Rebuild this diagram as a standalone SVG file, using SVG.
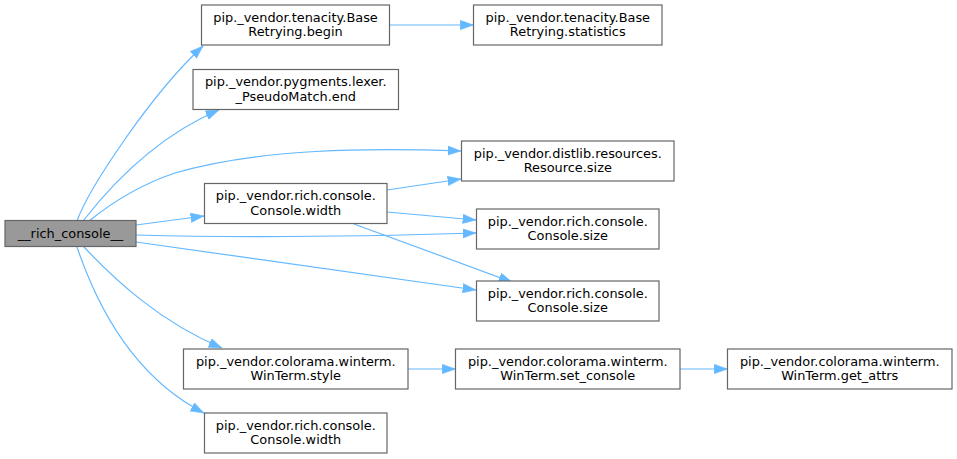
<svg xmlns="http://www.w3.org/2000/svg" width="957" height="459" viewBox="0 0 957 459">
<style>
.node rect{fill:#ffffff;stroke:#666666;stroke-width:1.2}
.node.root rect{fill:#999999}
.node text{font-family:"DejaVu Sans","Liberation Sans",sans-serif;font-size:12.9px;fill:#000000;text-anchor:middle}
.edges path{fill:none;stroke:#63b8ff;stroke-width:1.2;marker-end:url(#ah)}
</style>
<defs>
<marker id="ah" markerUnits="userSpaceOnUse" markerWidth="14" markerHeight="10" refX="13.3" refY="4.7" orient="auto">
<path d="M0,0 L13.3,4.7 L0,9.4 z" fill="#63b8ff" stroke="#63b8ff" stroke-width="0.5"/>
</marker>
</defs>
<g class="edges" id="edges">
<path d="M77,221 C88,190 150,95 203,46"/>
<path d="M83,221 C115,180 160,135 219,110"/>
<path d="M89,221 C115,200 145,183 175,173 C260,148 370,148 461,151"/>
<path d="M136,225 L204,216"/>
<path d="M136,235 C250,238 380,236 476,233"/>
<path d="M136,242 L476,290"/>
<path d="M84,247 C115,280 160,322 222,348"/>
<path d="M77,247 C95,300 130,375 204,413"/>
<path d="M387,190 L461,179"/>
<path d="M387,212 L476,220"/>
<path d="M354,224 L512,282"/>
<path d="M389.5,25 L473.5,25"/>
<path d="M408,369 L455.5,369"/>
<path d="M680,369 L727.5,369"/>
</g>
<g class="node root" id="n0"><rect x="5" y="220.5" width="131" height="26"/><text x="70.5" y="237.5">__rich_console__</text></g>
<g class="node" id="n1"><rect x="201.5" y="5" width="188" height="40"/><text x="295.5" y="21.5">pip._vendor.tenacity.Base</text><text x="295.5" y="36">Retrying.begin</text></g>
<g class="node" id="n2"><rect x="473.5" y="5" width="188.5" height="40"/><text x="567.75" y="21.5">pip._vendor.tenacity.Base</text><text x="567.75" y="36">Retrying.statistics</text></g>
<g class="node" id="n3"><rect x="193" y="69.5" width="205.5" height="40"/><text x="295.75" y="86">pip._vendor.pygments.lexer.</text><text x="295.75" y="100.5">_PseudoMatch.end</text></g>
<g class="node" id="n4"><rect x="461.5" y="141" width="212.5" height="40"/><text x="567.75" y="157.5">pip._vendor.distlib.resources.</text><text x="567.75" y="172">Resource.size</text></g>
<g class="node" id="n5"><rect x="204.5" y="183.5" width="182.5" height="40"/><text x="295.75" y="200">pip._vendor.rich.console.</text><text x="295.75" y="214.5">Console.width</text></g>
<g class="node" id="n6"><rect x="476.5" y="209" width="182.5" height="40"/><text x="567.75" y="225.5">pip._vendor.rich.console.</text><text x="567.75" y="240">Console.size</text></g>
<g class="node" id="n7"><rect x="476.5" y="281" width="182.5" height="40"/><text x="567.75" y="297.5">pip._vendor.rich.console.</text><text x="567.75" y="312">Console.size</text></g>
<g class="node" id="n8"><rect x="183.5" y="349" width="224.5" height="40"/><text x="295.75" y="365.5">pip._vendor.colorama.winterm.</text><text x="295.75" y="380">WinTerm.style</text></g>
<g class="node" id="n9"><rect x="455.5" y="349" width="224.5" height="40"/><text x="567.75" y="365.5">pip._vendor.colorama.winterm.</text><text x="567.75" y="380">WinTerm.set_console</text></g>
<g class="node" id="n10"><rect x="727.5" y="349" width="224.5" height="40"/><text x="839.75" y="365.5">pip._vendor.colorama.winterm.</text><text x="839.75" y="380">WinTerm.get_attrs</text></g>
<g class="node" id="n11"><rect x="204.5" y="413" width="182.5" height="40"/><text x="295.75" y="429.5">pip._vendor.rich.console.</text><text x="295.75" y="444">Console.width</text></g>
</svg>
